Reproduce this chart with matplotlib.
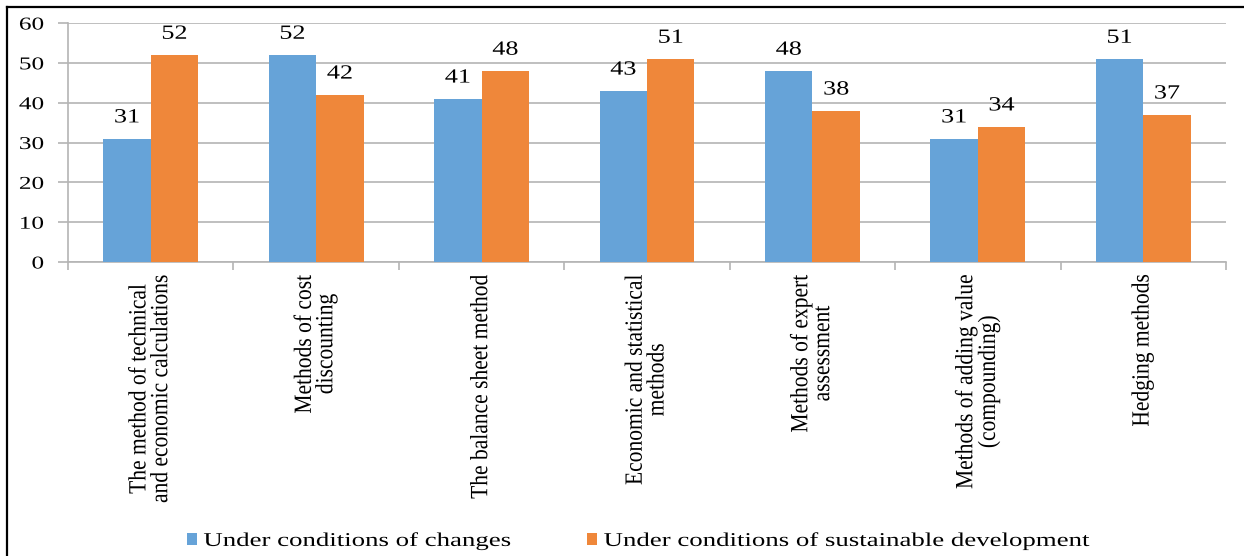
import numpy as np
import matplotlib
matplotlib.use('Agg')
import matplotlib.pyplot as plt
import matplotlib.patheffects as pe
from matplotlib.lines import Line2D
from matplotlib.transforms import Affine2D

# data
categories = [
    'The method of technical\nand economic calculations',
    'Methods of cost\ndiscounting',
    'The balance sheet method',
    'Economic and statistical\nmethods',
    'Methods of expert\nassessment',
    'Methods of adding value\n(compounding)',
    'Hedging methods',
]
changes = [31, 52, 41, 43, 48, 31, 51]
sustainable = [52, 42, 48, 51, 38, 34, 37]
series_names = ['Under conditions of changes',
                'Under conditions of sustainable development']
y_ticks = [0, 10, 20, 30, 40, 50, 60]

BLUE = '#66a3d8'
ORANGE = '#ef873a'
GRID = '#b4b4b4'


class Stretch(pe.AbstractPathEffect):
    """Widen glyphs horizontally (in screen space) around an anchor."""

    def __init__(self, sx, anchor='center'):
        super().__init__()
        self.sx = sx
        self.anchor = anchor

    def draw_path(self, renderer, gc, tpath, affine, rgbFace=None):
        ext = tpath.transformed(affine).get_extents()
        if self.anchor == 'left':
            x0 = ext.x0
        elif self.anchor == 'right':
            x0 = ext.x1
        else:
            x0 = (ext.x0 + ext.x1) / 2
        aff = affine + Affine2D().translate(-x0, 0).scale(self.sx, 1).translate(x0, 0)
        renderer.draw_path(gc, tpath, aff, rgbFace)


plt.rcParams['font.family'] = ['Liberation Serif', 'DejaVu Serif']

fig = plt.figure(figsize=(12.44, 5.56), dpi=100)
ax = fig.add_axes([68 / 1244, 1 - 262 / 556, (1226 - 68) / 1244, (262 - 23) / 556])

x = np.arange(len(categories))
w = 0.287
b1 = ax.bar(x - w / 2, changes, w, color=BLUE, label=series_names[0], zorder=3)
b2 = ax.bar(x + w / 2, sustainable, w, color=ORANGE, label=series_names[1], zorder=3)

for bars, vals in ((b1, changes), (b2, sustainable)):
    for rect, v in zip(bars, vals):
        ax.annotate(str(v), (rect.get_x() + rect.get_width() / 2, v),
                    xytext=(0, 8), textcoords='offset points',
                    ha='center', va='bottom', fontsize=14.5,
                    path_effects=[Stretch(1.3)])

ax.set_xlim(-0.5, len(categories) - 0.5)
ax.set_ylim(0, 60)
ax.set_yticks(y_ticks)
ax.yaxis.grid(True, color=GRID, lw=1.2, zorder=0)
ax.tick_params(axis='y', length=7.5, width=1.2, color=GRID, labelsize=13, pad=10)
for t in ax.get_yticklabels():
    t.set_path_effects([Stretch(1.4, 'right')])

# category labels at centers, tick marks at group boundaries
ax.set_xticks(x)
ax.set_xticklabels(categories, rotation=90, fontsize=15.5, multialignment='center')
ax.tick_params(axis='x', which='major', length=0, pad=9)
for t in ax.get_xticklabels():
    t.set_path_effects([Stretch(1.15)])
ax.set_xticks(np.arange(len(categories) + 1) - 0.5, minor=True)
ax.tick_params(axis='x', which='minor', length=6, width=1.2, color=GRID)

for s in ('top', 'right'):
    ax.spines[s].set_visible(False)
for s in ('left', 'bottom'):
    ax.spines[s].set_color(GRID)
    ax.spines[s].set_linewidth(1.2)

leg = fig.legend(handles=[b1, b2], labels=series_names, loc='center left',
                 bbox_to_anchor=(187 / 1244, 1 - 541 / 556), ncol=2, frameon=False,
                 fontsize=14, handlelength=0.5, handleheight=0.5,
                 handletextpad=0.35, columnspacing=8.2, borderaxespad=0,
                 borderpad=0)
for t in leg.get_texts():
    t.set_path_effects([Stretch(1.38, 'left')])

# outer frame: left and top edges
fig.add_artist(Line2D([6.5 / 1244, 6.5 / 1244], [0, 1 - 7 / 556],
                      color='black', lw=1.6, transform=fig.transFigure))
fig.add_artist(Line2D([6.5 / 1244, 1], [1 - 7 / 556, 1 - 7 / 556],
                      color='black', lw=1.6, transform=fig.transFigure))

fig.savefig('out.png', dpi=100)
